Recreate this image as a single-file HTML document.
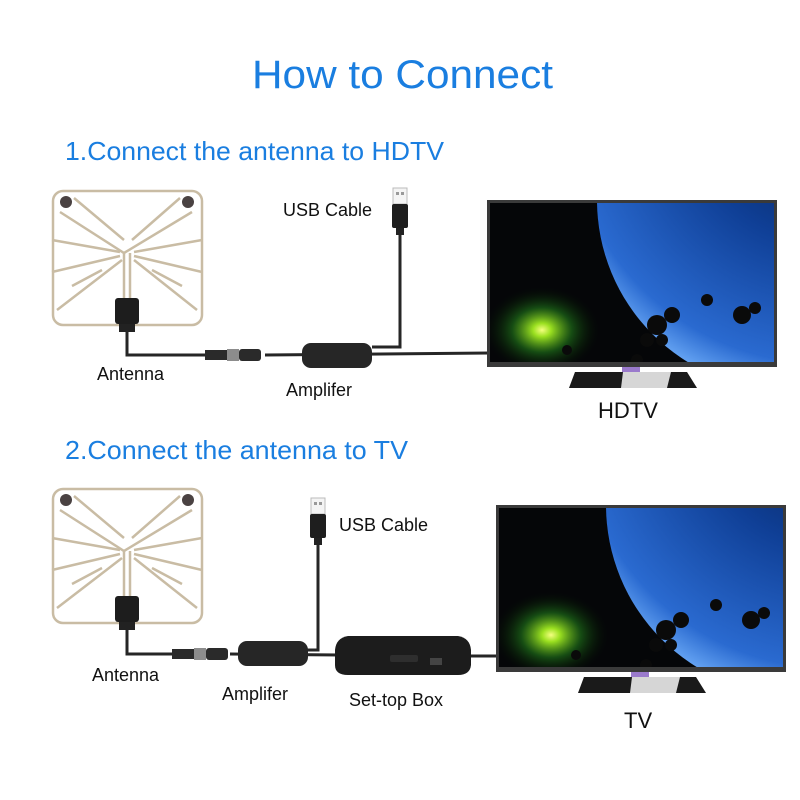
<!DOCTYPE html>
<html><head><meta charset="utf-8"><style>html,body{margin:0;padding:0;background:#fff}svg{display:block}</style></head>
<body>
<svg width="800" height="800" viewBox="0 0 800 800" xmlns="http://www.w3.org/2000/svg" font-family="Liberation Sans, Arial, sans-serif">
<defs>
<radialGradient id="glow" cx="0.5" cy="0.5" r="0.5">
<stop offset="0" stop-color="#f4ff80"/><stop offset="0.15" stop-color="#9be020"/><stop offset="0.5" stop-color="#1d6a18" stop-opacity="0.7"/><stop offset="1" stop-color="#000" stop-opacity="0"/>
</radialGradient>
<radialGradient id="planet" cx="0.6" cy="0.25" r="0.8">
<stop offset="0" stop-color="#061a44"/><stop offset="0.45" stop-color="#0f3f96"/><stop offset="0.85" stop-color="#2a6ad0"/><stop offset="1" stop-color="#7ab8ff"/>
</radialGradient>
<clipPath id="scr"><rect x="3" y="3" width="284" height="159"/></clipPath>
<g id="ant">
<rect x="1" y="1" width="149" height="134" rx="10" fill="#fff" stroke="#c9bca4" stroke-width="2.5"/>
<circle cx="14" cy="12" r="6" fill="#4a4242"/><circle cx="136" cy="12" r="6" fill="#4a4242"/>
<g stroke="#c9bca4" stroke-width="2.5" fill="none">
<path d="M8 22 L72 63 L140 22"/><path d="M22 8 L72 50 M128 8 L80 50"/>
<path d="M0 50 L68 62 M150 50 L82 62"/><path d="M0 82 L68 66 M150 82 L82 66"/>
<path d="M5 120 L70 70 M145 120 L82 70"/><path d="M20 96 L50 80 M130 96 L100 80"/>
<path d="M72 63 L72 108 M78 63 L78 108"/>
</g>
<rect x="63" y="108" width="24" height="26" rx="3" fill="#1d1d1d"/>
<rect x="67" y="134" width="16" height="8" fill="#222"/>
</g>
<g id="tv">
<rect x="0" y="0" width="290" height="167" fill="#3a3a3a"/>
<rect x="3" y="3" width="284" height="159" fill="#050608"/>
<g clip-path="url(#scr)">
<circle cx="300" cy="0" r="190" fill="url(#planet)"/>
<ellipse cx="55" cy="130" rx="60" ry="45" fill="url(#glow)"/>
<g fill="#0a0a0a"><circle cx="170" cy="125" r="10"/><circle cx="185" cy="115" r="8"/><circle cx="160" cy="140" r="7"/><circle cx="175" cy="140" r="6"/><circle cx="220" cy="100" r="6"/><circle cx="255" cy="115" r="9"/><circle cx="268" cy="108" r="6"/><circle cx="80" cy="150" r="5"/><circle cx="150" cy="160" r="6"/></g>
</g>
<rect x="135" y="167" width="18" height="6" fill="#9a7acc"/>
<rect x="139" y="173" width="10" height="8" fill="#ccc"/>
<path d="M88 172 L200 172 L210 188 L82 188 Z" fill="#d6d6d6"/>
<path d="M88 172 L136 172 L134 188 L82 188 Z" fill="#1a1a1a"/>
<path d="M184 172 L200 172 L210 188 L180 188 Z" fill="#1a1a1a"/>
</g>
<g id="usb">
<rect x="0" y="0" width="14" height="16" fill="#f4f4f4" stroke="#bbb" stroke-width="1"/>
<rect x="3" y="4" width="3" height="3" fill="#999"/><rect x="8" y="4" width="3" height="3" fill="#999"/>
<rect x="-1" y="16" width="16" height="24" rx="2" fill="#1e1e1e"/>
<rect x="3" y="40" width="8" height="7" fill="#222"/>
</g>
<g id="amp"><rect x="0" y="0" width="70" height="25" rx="9" fill="#262626"/></g>
<g id="coax"><rect x="0" y="-5" width="22" height="10" fill="#2a2a2a"/><rect x="22" y="-6" width="12" height="12" fill="#8c8c8c"/><rect x="34" y="-6" width="22" height="12" rx="3" fill="#2a2a2a"/></g>
</defs>

<text x="252" y="88" font-size="40" fill="#1a7ee0" textLength="301" lengthAdjust="spacingAndGlyphs">How to Connect</text>
<text x="65" y="160" font-size="26" fill="#1a7ee0" textLength="379" lengthAdjust="spacingAndGlyphs">1.Connect the antenna to HDTV</text>
<text x="65" y="459" font-size="26" fill="#1a7ee0" textLength="343" lengthAdjust="spacingAndGlyphs">2.Connect the antenna to TV</text>

<!-- Section 1 -->
<use href="#ant" x="52" y="190"/>
<g stroke="#262626" stroke-width="3" fill="none">
<path d="M127 330 L127 355 L210 355"/>
<path d="M265 355 L490 353"/>
<path d="M400 235 L400 347 L372 347"/>
</g>
<use href="#coax" x="205" y="355"/>
<use href="#amp" x="302" y="343"/>
<use href="#usb" x="393" y="188"/>
<use href="#tv" x="487" y="200"/>
<text x="283" y="216" font-size="18" fill="#111">USB Cable</text>
<text x="97" y="380" font-size="18" fill="#111">Antenna</text>
<text x="286" y="396" font-size="18" fill="#111">Amplifer</text>
<text x="598" y="418" font-size="22" fill="#111">HDTV</text>

<!-- Section 2 -->
<use href="#ant" x="52" y="488"/>
<g stroke="#262626" stroke-width="3" fill="none">
<path d="M127 630 L127 654 L175 654"/>
<path d="M230 654 L340 655"/>
<path d="M470 656 L497 656"/>
<path d="M318 545 L318 650 L305 650"/>
</g>
<use href="#coax" x="172" y="654"/>
<use href="#amp" x="238" y="641"/>
<use href="#usb" x="311" y="498"/>
<path d="M348 636 L458 636 Q470 638 471 650 L471 665 Q470 675 458 675 L348 675 Q335 675 335 665 L335 650 Q336 638 348 636 Z" fill="#1c1c1c"/>
<rect x="390" y="655" width="28" height="7" rx="2" fill="#2e2e2e"/>
<rect x="430" y="658" width="12" height="7" fill="#444"/>
<use href="#tv" x="496" y="505"/>
<text x="339" y="531" font-size="18" fill="#111">USB Cable</text>
<text x="92" y="681" font-size="18" fill="#111">Antenna</text>
<text x="222" y="700" font-size="18" fill="#111">Amplifer</text>
<text x="349" y="706" font-size="18" fill="#111">Set-top Box</text>
<text x="624" y="728" font-size="22" fill="#111">TV</text>
</svg>
</body></html>
